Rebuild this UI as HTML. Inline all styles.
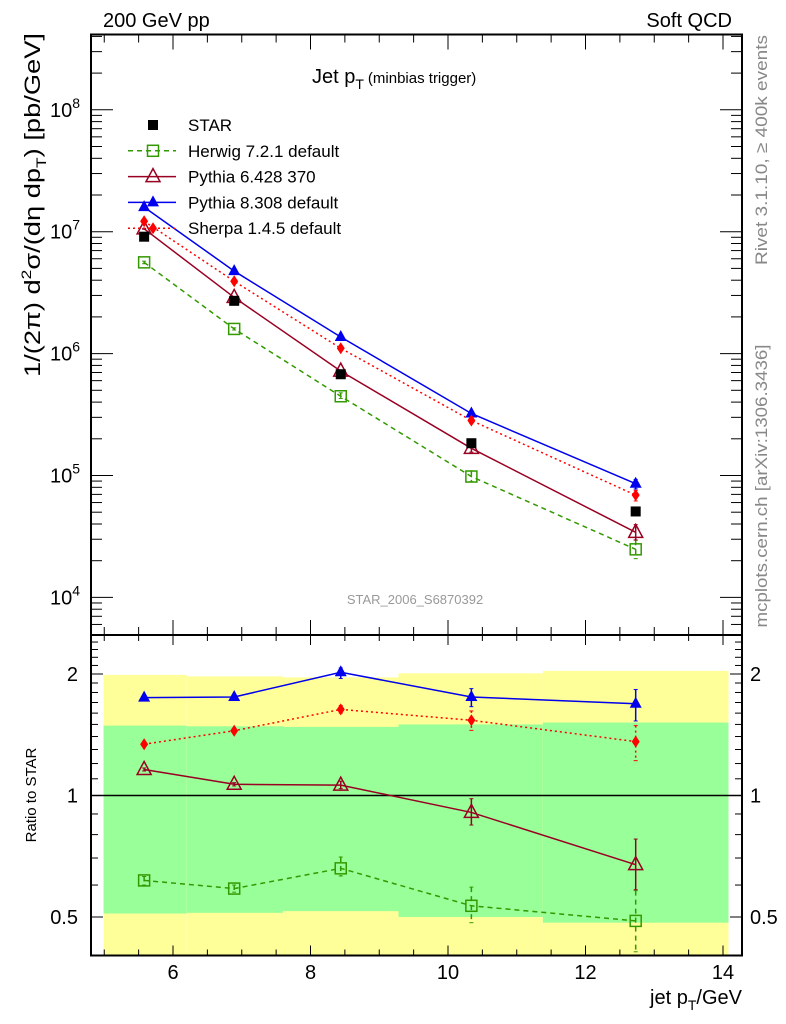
<!DOCTYPE html>
<html><head><meta charset="utf-8"><style>
html,body{margin:0;padding:0;background:#fff;}
svg{display:block;font-family:"Liberation Sans",Arial,sans-serif;}
</style></head><body>
<svg id="chart" width="786" height="1024" viewBox="0 0 786 1024" xmlns="http://www.w3.org/2000/svg">
<g id="bands"></g>
<g id="ticks"></g>
<g id="series"></g>
<rect x="91" y="34.5" width="651" height="600.5" fill="none" stroke="#000" stroke-width="2"/>
<rect x="91" y="635" width="651" height="320.5" fill="none" stroke="#000" stroke-width="2"/>
<text x="103" y="27" font-size="20">200 GeV pp</text>
<text x="732" y="27" font-size="20" text-anchor="end">Soft QCD</text>
<text x="312" y="83" font-size="20">Jet p<tspan font-size="14" dy="6">T</tspan><tspan font-size="15" dy="-6" dx="4">(minbias trigger)</tspan></text>
<text x="415" y="604" font-size="13" fill="#999" text-anchor="middle">STAR_2006_S6870392</text>
<text transform="translate(767,150) rotate(-90)" font-size="17" fill="#888" text-anchor="middle" textLength="230" lengthAdjust="spacingAndGlyphs">Rivet 3.1.10, ≥ 400k events</text>
<text transform="translate(767,486) rotate(-90)" font-size="17" fill="#888" text-anchor="middle" textLength="283" lengthAdjust="spacingAndGlyphs">mcplots.cern.ch [arXiv:1306.3436]</text>
<text transform="translate(40,205) rotate(-90)" font-size="22" text-anchor="middle" textLength="344" lengthAdjust="spacingAndGlyphs">1/(2π) d<tspan font-size="14" dy="-9">2</tspan><tspan dy="9">σ/(dη dp</tspan><tspan font-size="14" dy="6">T</tspan><tspan dy="-6">) [pb/GeV]</tspan></text>
<text transform="translate(36,795) rotate(-90)" font-size="15" text-anchor="middle">Ratio to STAR</text>
<text x="742" y="1004" font-size="20" text-anchor="end">jet p<tspan font-size="14" dy="6">T</tspan><tspan dy="-6">/GeV</tspan></text>
<g id="legend"></g>
</svg>
<script>
const xEdges=[4.99,6.2,7.6,9.28,11.38,14.08];
const xPoints=[5.58,6.89,8.44,10.34,12.73];
const starValues=[9.1e6,2.71e6,6.77e5,1.84e5,5.07e4];
const bandGreenHi=[1.49,1.484,1.479,1.50,1.516];
const bandGreenLo=[0.51,0.512,0.517,0.50,0.484];
const bandYellowHi=[1.99,1.973,1.962,2.008,2.036];
const bandYellowLo=[0.2,0.2,0.2,0.2,0.2];
const herwigRatio=[0.616,0.588,0.66,0.533,0.489];
const herwigHi=[0.63,0.60,0.704,0.593,0.581];
const herwigLo=[0.60,0.576,0.632,0.484,0.41];
const py6Ratio=[1.16,1.066,1.061,0.908,0.674];
const py6Hi=[1.17,1.076,1.085,0.982,0.78];
const py6Lo=[1.15,1.056,1.04,0.845,0.584];
const py8Ratio=[1.748,1.754,2.02,1.754,1.688];
const py8Hi=[1.76,1.766,2.07,1.84,1.83];
const py8Lo=[1.736,1.742,1.95,1.66,1.53];
const sherpaRatio=[1.34,1.447,1.634,1.536,1.36];
const sherpaHi=[1.35,1.46,1.67,1.62,1.49];
const sherpaLo=[1.33,1.434,1.6,1.45,1.22];
const mainYTicks=["10^4","10^5","10^6","10^7","10^8"];
const ratioYTicks=[0.5,1,2];
const xTickLabels=[6,8,10,12,14];

const NS="http://www.w3.org/2000/svg";
const X=v=>173+(v-6)*68.75;
const Y=v=>231.7-(Math.log10(v)-7)*121.9;
const R=v=>795.5-Math.log2(v)*121.5;
const clipR=y=>Math.max(635,Math.min(955.5,y));
function mk(tag,attrs,parent){const e=document.createElementNS(NS,tag);for(const k in attrs)e.setAttribute(k,attrs[k]);parent.appendChild(e);return e;}
const bands=document.getElementById('bands'),ticks=document.getElementById('ticks'),series=document.getElementById('series'),legend=document.getElementById('legend');

for(let i=0;i<xPoints.length;i++){
  const x0=X(xEdges[i]),x1=X(xEdges[i+1]);
  let y0=clipR(R(bandYellowHi[i])),y1=clipR(R(bandYellowLo[i]));
  const yb=mk('rect',{x:x0,y:y0,width:x1-x0,height:y1-y0,fill:'#ffff99'},bands);
  
  
  y0=R(bandGreenHi[i]);y1=R(bandGreenLo[i]);
  const gb=mk('rect',{x:x0,y:y0,width:x1-x0,height:y1-y0,fill:'#99ff99'},bands);
  
  
}
const one=mk('line',{x1:91,x2:742,y1:R(1),y2:R(1),stroke:'#000','stroke-width':1.5},bands);



for(let v=5;v<=14.01;v+=0.5){
  const major=Math.abs(v%2)<0.01;const x=X(v);
  const L=major?15:8, l=major?10:6;
  mk('line',{x1:x,x2:x,y1:34.5,y2:34.5+L,stroke:'#000'},ticks);
  mk('line',{x1:x,x2:x,y1:635,y2:635-L,stroke:'#000'},ticks);
  mk('line',{x1:x,x2:x,y1:635,y2:635+l,stroke:'#000'},ticks);
  mk('line',{x1:x,x2:x,y1:955.5,y2:955.5-l,stroke:'#000'},ticks);
}
xTickLabels.forEach(v=>{const t=mk('text',{x:X(v),y:979,'font-size':20,'text-anchor':'middle'},ticks);t.textContent=v;
  
  });
for(let d=3;d<=8;d++){for(let m=1;m<=9;m++){const v=m*Math.pow(10,d);const y=Y(v);if(y<35||y>634)continue;
  const L=m==1?22:11;mk('line',{x1:91,x2:91+L,y1:y,y2:y,stroke:'#000'},ticks);mk('line',{x1:742,x2:742-L,y1:y,y2:y,stroke:'#000'},ticks);}}
mainYTicks.forEach(s=>{const e=+s.split('^')[1];const y=Y(Math.pow(10,e));
  const t=mk('text',{x:80,y:y+7,'font-size':20,'text-anchor':'end'},ticks);
  
  
  t.appendChild(document.createTextNode('10'));const sp=mk('tspan',{'font-size':14,dy:-9},t);sp.textContent=e;});
for(let v=0.5;v<=2.45;v+=0.1){const y=R(v);const maj=[0.5,1,2].some(k=>Math.abs(k-v)<0.01);const L=maj?12:7;
  mk('line',{x1:91,x2:91+L,y1:y,y2:y,stroke:'#000'},ticks);mk('line',{x1:742,x2:742-L,y1:y,y2:y,stroke:'#000'},ticks);}
ratioYTicks.forEach(v=>{const y=R(v);
  const a=mk('text',{x:78,y:y+7,'font-size':20,'text-anchor':'end'},ticks);a.textContent=v;
  
  
  const b=mk('text',{x:750,y:y+7,'font-size':20},ticks);b.textContent=v;
  
  });

function marker(kind,x,y,color,g){
  if(kind=='sq')return mk('rect',{x:x-5,y:y-5,width:10,height:10,fill:'#000'},g);
  if(kind=='osq')return mk('rect',{x:x-5.5,y:y-5.5,width:11,height:11,fill:'none',stroke:color,'stroke-width':1.5},g);
  if(kind=='otri')return mk('path',{d:`M${x},${y-8}L${x+7},${y+5}L${x-7},${y+5}Z`,fill:'none',stroke:color,'stroke-width':1.5},g);
  if(kind=='tri')return mk('path',{d:`M${x},${y-7}L${x+6},${y+4}L${x-6},${y+4}Z`,fill:color},g);
  if(kind=='dia')return mk('path',{d:`M${x},${y-6}L${x+4},${y}L${x},${y+6}L${x-4},${y}Z`,fill:color},g);
}
const mcs=[
 {name:'herwig',label:'Herwig 7.2.1 default',r:herwigRatio,hi:herwigHi,lo:herwigLo,color:'#339900',dash:'5,4',m:'osq'},
 {name:'pythia6',label:'Pythia 6.428 370',r:py6Ratio,hi:py6Hi,lo:py6Lo,color:'#990022',dash:'',m:'otri'},
 {name:'pythia8',label:'Pythia 8.308 default',r:py8Ratio,hi:py8Hi,lo:py8Lo,color:'#0000ee',dash:'',m:'tri'},
 {name:'sherpa',label:'Sherpa 1.4.5 default',r:sherpaRatio,hi:sherpaHi,lo:sherpaLo,color:'#ff0000',dash:'2,3',m:'dia'}];
mcs.forEach(s=>{
  const g=mk('g',{},series);
  
  
  const mainPts=xPoints.map((x,i)=>[X(x),Y(starValues[i]*s.r[i])]);
  const ratioPts=xPoints.map((x,i)=>[X(x),R(s.r[i])]);
  const pa={fill:'none',stroke:s.color,'stroke-width':1.5};if(s.dash)pa['stroke-dasharray']=s.dash;
  const l1=mk('polyline',Object.assign({points:mainPts.map(p=>p.join(',')).join(' ')},pa),g);
  
  
  const l2=mk('polyline',Object.assign({points:ratioPts.map(p=>p.join(',')).join(' ')},pa),g);
  
  
  xPoints.forEach((xv,i)=>{
    const x=X(xv);
    const ea={stroke:s.color,'stroke-width':1.5};if(s.dash)ea['stroke-dasharray']=s.dash;
    [[R(s.hi[i]),R(s.lo[i])],[Y(starValues[i]*s.hi[i]),Y(starValues[i]*s.lo[i])]].forEach(([a,b])=>{
      b=Math.min(b,955.5);
      mk('line',Object.assign({x1:x,x2:x,y1:a,y2:b},ea),g);
      mk('line',{x1:x-2,x2:x+2,y1:a,y2:a,stroke:s.color},g);mk('line',{x1:x-2,x2:x+2,y1:b,y2:b,stroke:s.color},g);});
    const m1=marker(s.m,x,mainPts[i][1],s.color,g);
    
    
    const m2=marker(s.m,x,ratioPts[i][1],s.color,g);
    
    
  });
});
const sg=mk('g',{},series);


xPoints.forEach((xv,i)=>{const m=marker('sq',X(xv),Y(starValues[i]),'#000',sg);
  
  });
const legItems=[{label:'STAR',m:'sq',color:'#000',dash:null}].concat(mcs.map(s=>({label:s.label,m:s.m,color:s.color,dash:s.dash})));
legItems.forEach((it,i)=>{const y=125+i*25.8;
  const g=mk('g',{},legend);
  
  
  if(it.dash!==null){const a={x1:128,x2:176,y1:y,y2:y,stroke:it.color,'stroke-width':1.5};if(it.dash)a['stroke-dasharray']=it.dash;mk('line',a,g);}
  marker(it.m,153,y,it.color,g);
  const t=mk('text',{x:188,y:y+6,'font-size':17},g);t.textContent=it.label;});
</script>
</body></html>
